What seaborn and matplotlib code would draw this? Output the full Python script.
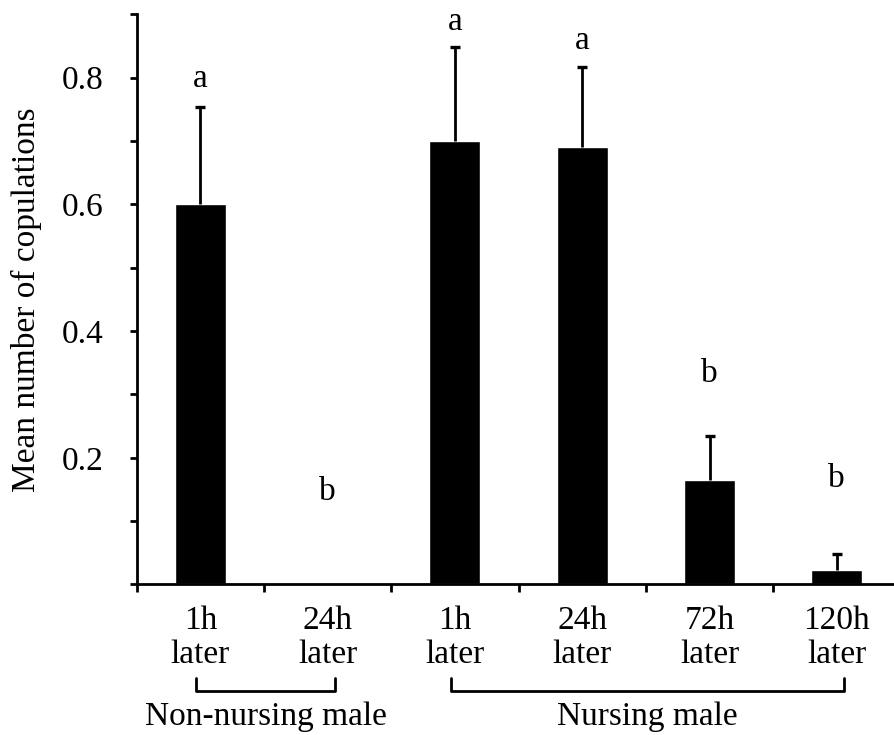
import numpy as np
import pandas as pd
import matplotlib
matplotlib.use("Agg")
import matplotlib.pyplot as plt
import seaborn as sns
from matplotlib.ticker import FixedLocator, MultipleLocator

# bar data
conditions = ["nn_1h", "nn_24h", "n_1h", "n_24h", "n_72h", "n_120h"]
tick_labels = ["1h\nlater", "24h\nlater", "1h\nlater", "24h\nlater", "72h\nlater", "120h\nlater"]
means = [0.60, 0.0, 0.70, 0.69, 0.165, 0.023]
errors = [0.154, 0.0, 0.149, 0.127, 0.070, 0.025]
letters = ["a", "b", "a", "a", "b", "b"]
letter_y = [0.799, 0.147, 0.888, 0.858, 0.332, 0.167]

groups = ["Non-nursing male", "Nursing male"]
group_first = [0, 2]
group_last = [1, 5]

FS = 24

sns.set_theme(style="ticks")
plt.rcParams["font.family"] = ["Liberation Serif", "DejaVu Serif"]

df = pd.DataFrame({"condition": conditions, "mean": means, "err": errors})

fig = plt.figure(figsize=(8.95, 7.35), dpi=100)
ax = fig.add_axes([0.1527, 0.2048, 0.8473, 0.7757])

sns.barplot(data=df, x="condition", y="mean", color="black", saturation=1,
            width=0.4, errorbar=None, ax=ax)

# upper-only error bars, skip the empty bar
pos = np.arange(len(conditions))
mask = df["err"].values > 0
eb = ax.errorbar(pos[mask], df["mean"].values[mask],
                 yerr=[np.zeros(mask.sum()), df["err"].values[mask]],
                 fmt="none", ecolor="black", elinewidth=2, capsize=3.8, capthick=2.4)
eb[1][0].set_visible(False)  # no cap at the bar top

for i, (lt, ly) in enumerate(zip(letters, letter_y)):
    ax.text(i, ly, lt, ha="center", va="center", fontsize=FS, color="black")

ax.set_xlim(-0.5, 5.457)
ax.set_ylim(0, 0.9)

ax.set_xticks(pos)
ax.set_xticklabels(tick_labels, fontsize=FS, linespacing=1.15)
ax.xaxis.set_minor_locator(FixedLocator(np.arange(-0.5, 6, 1.0)))
ax.tick_params(axis="x", which="major", length=0, pad=15, labelcolor="black")
ax.tick_params(axis="x", which="minor", length=6, width=2, direction="out", color="black")

ax.yaxis.set_major_locator(FixedLocator([0.2, 0.4, 0.6, 0.8]))
ax.yaxis.set_minor_locator(MultipleLocator(0.1))
ax.set_yticklabels(["0.2", "0.4", "0.6", "0.8"], fontsize=FS)
ax.tick_params(axis="y", which="both", length=5, width=2, direction="out",
               color="black", labelcolor="black", pad=19)

ax.set_xlabel("")
ax.set_ylabel("Mean number of copulations", fontsize=FS, color="black")
ax.yaxis.set_label_coords(-0.125, 0.5)

sns.despine(ax=ax)
for side in ["left", "bottom"]:
    ax.spines[side].set_linewidth(2)
    ax.spines[side].set_color("black")

# group brackets under the tick labels
trans = ax.get_xaxis_transform()
for name, a, b in zip(groups, group_first, group_last):
    x0, x1 = a - 0.03, b + 0.06
    ax.plot([x0, x0, x1, x1], [-0.164, -0.1865, -0.1865, -0.164],
            transform=trans, clip_on=False, color="black", lw=2)
    ax.text((x0 + x1) / 2, -0.247, name, transform=trans, ha="center",
            va="baseline", fontsize=FS, color="black")

fig.savefig("out.png", dpi=100)
